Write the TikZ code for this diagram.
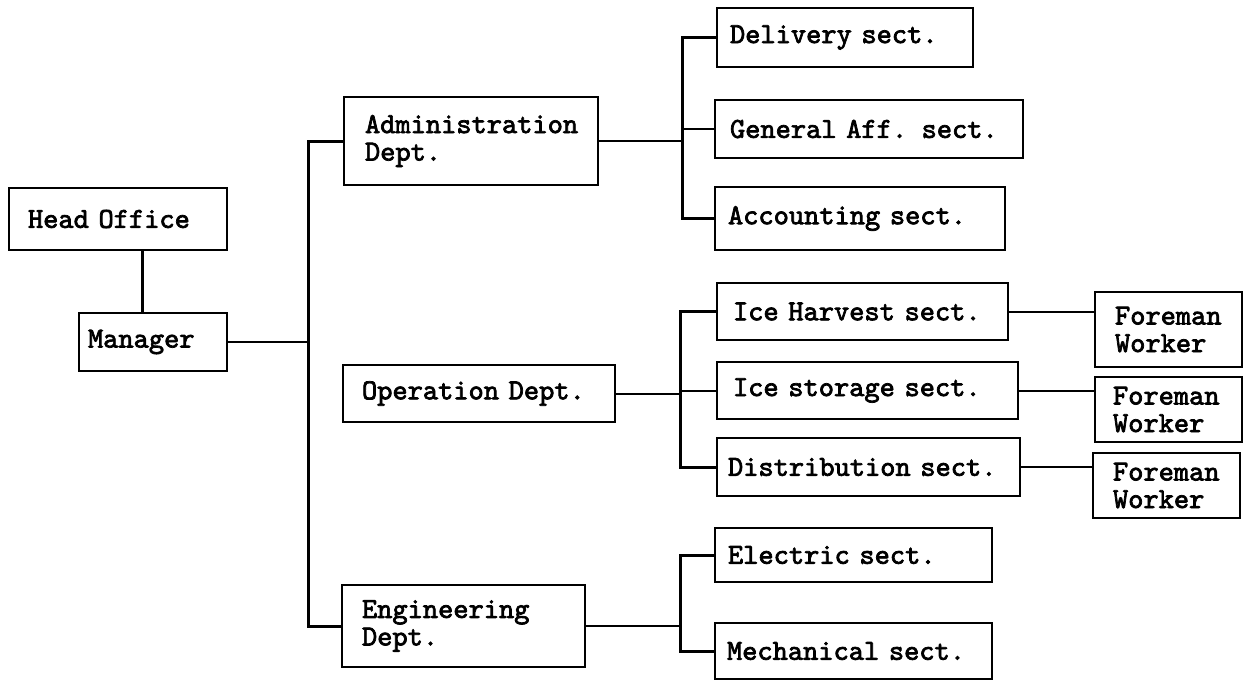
\documentclass[tikz,border=0pt]{standalone}
\usepackage{fontspec}
\newfontfamily\boxfont{lmmono10-regular.otf}[FakeBold=2.5]
\hyphenpenalty=10000
\exhyphenpenalty=10000
\tikzset{
  box/.style={draw, line width=2.8pt, rectangle, inner ysep=0pt, align=left,
     font=\boxfont\fontsize{29}{27.5}\selectfont},
  conn/.style={line width=2pt},
  trunk/.style={line width=3pt}}
\begin{document}
\begin{tikzpicture}[x=1pt,y=-1pt]
\useasboundingbox (0,0) rectangle (1246,681);
% boxes
\node[box, minimum width=218pt, minimum height=62pt, inner xsep=19pt, text width=180pt] (HO) at (118,219) {Head Office};
\node[box, minimum width=148pt, minimum height=58pt, inner xsep=9pt, text width=130pt] (Mgr) at (153,342) {Manager};
\node[box, minimum width=254pt, minimum height=88pt, inner xsep=21pt, text width=212pt] (Adm) at (471,141) {Administration\\Dept.};
\node[box, minimum width=272pt, minimum height=57pt, inner xsep=19pt, text width=234pt] (Op) at (479,393.5) {Operation Dept.};
\node[box, minimum width=243pt, minimum height=82pt, inner xsep=20pt, text width=203pt] (Eng) at (463.5,626) {Engineering\\Dept.};
\node[box, minimum width=256pt, minimum height=59pt, inner xsep=13pt, text width=230pt] (Del) at (845,37.5) {Delivery sect.};
\node[box, minimum width=308pt, minimum height=58pt, inner xsep=15pt, text width=278pt] (Gen) at (869,129) {General Aff. sect.};
\node[box, minimum width=290pt, minimum height=63pt, inner xsep=13pt, text width=264pt] (Acc) at (860,218.5) {Accounting sect.};
\node[box, minimum width=291pt, minimum height=57pt, inner xsep=16pt, text width=259pt] (IH) at (862.5,311.5) {Ice Harvest sect.};
\node[box, minimum width=301pt, minimum height=57pt, inner xsep=16pt, text width=269pt] (IS) at (867.5,390.5) {Ice storage sect.};
\node[box, minimum width=303pt, minimum height=58pt, inner xsep=11pt, text width=281pt] (Dist) at (868.5,467) {Distribution sect.};
\node[box, minimum width=147pt, minimum height=75pt, inner xsep=20pt, text width=107pt] (F1) at (1168.5,329.5) {Foreman\\Worker};
\node[box, minimum width=147pt, minimum height=65pt, inner xsep=18pt, text width=111pt] (F2) at (1168.5,409.5) {Foreman\\Worker};
\node[box, minimum width=147pt, minimum height=65pt, inner xsep=20pt, text width=107pt] (F3) at (1166.5,485.5) {Foreman\\Worker};
\node[box, minimum width=277pt, minimum height=54pt, inner xsep=13pt, text width=251pt] (Elec) at (853.5,555) {Electric sect.};
\node[box, minimum width=277pt, minimum height=56pt, inner xsep=12pt, text width=253pt] (Mech) at (853.5,651) {Mechanical sect.};
% guide coordinates
\coordinate (hx) at (142,0);
\coordinate (tt) at (308,0);
\coordinate (av) at (682,0);
\coordinate (ov) at (680,0);
% connectors
\draw[trunk] (HO.south -| hx) -- (Mgr.north -| hx);
\draw[conn] (Mgr.east) -- (Mgr.east -| tt);
\draw[trunk] (Adm.west) -- (Adm.west -| tt) -- (Eng.west -| tt) -- (Eng.west);
\draw[conn] (Adm.east) -- (Adm.east -| av);
\draw[trunk] (Del.west) -- (Del.west -| av) -- (Acc.west -| av) -- (Acc.west);
\draw[conn] (Gen.west) -- (Gen.west -| av);
\draw[conn] (Op.east) -- (Op.east -| ov);
\draw[trunk] (IH.west) -- (IH.west -| ov) -- (Dist.west -| ov) -- (Dist.west);
\draw[conn] (IS.west) -- (IS.west -| ov);
\draw[conn] (IH.east) -- (IH.east -| F1.west);
\draw[conn] (IS.east) -- (IS.east -| F2.west);
\draw[conn] (Dist.east) -- (Dist.east -| F3.west);
\draw[conn] (Eng.east) -- (Eng.east -| ov);
\draw[trunk] (Elec.west) -- (Elec.west -| ov) -- (Mech.west -| ov) -- (Mech.west);
\end{tikzpicture}
\end{document}
